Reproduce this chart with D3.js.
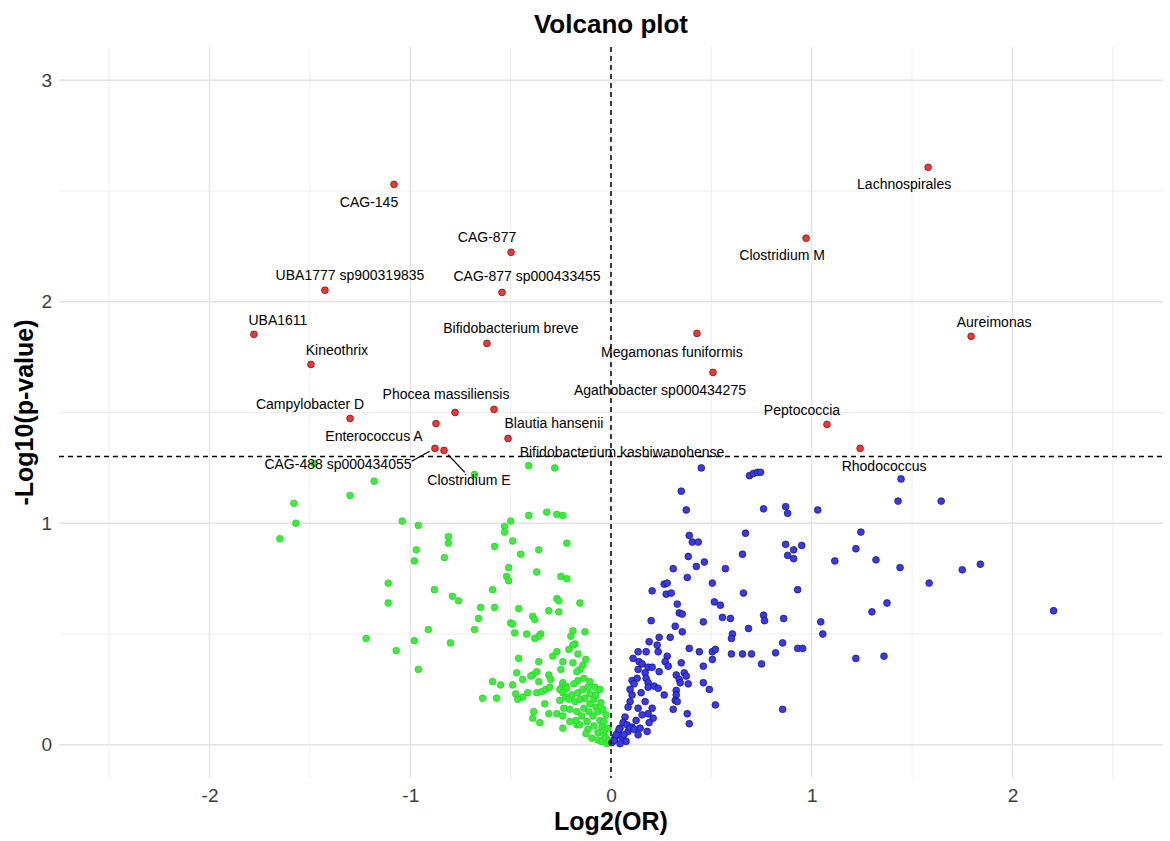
<!DOCTYPE html>
<html>
<head>
<meta charset="utf-8">
<script src="https://cdn.jsdelivr.net/npm/d3@7"></script>
<style>
  body { margin: 0; background: #fff; }
  svg { font-family: "Liberation Sans", Arial, sans-serif; }
</style>
</head>
<body>
<svg id="volcano"></svg>
<script>
// significant taxa (p < 0.05)
const sigNames = [
  'Lachnospirales', 'CAG-145', 'Clostridium M', 'CAG-877', 'UBA1777 sp900319835',
  'CAG-877 sp000433455', 'Aureimonas', 'UBA1611', 'Megamonas funiformis',
  'Bifidobacterium breve', 'Kineothrix', 'Agathobacter sp000434275',
  'Phocea massiliensis', 'Blautia hansenii', 'Enterococcus A',
  'Bifidobacterium kashiwanohense', 'CAG-488 sp000434055', 'Clostridium E',
  'Peptococcia', 'Campylobacter D', 'Rhodococcus'
];
const sigLog2OR = [1.58, -1.081, 0.972, -0.498, -1.425, -0.543, 1.794, -1.779, 0.428,
  -0.618, -1.495, 0.508, -0.777, -0.583, -0.872, -0.513, -0.877, -0.832, 1.076, -1.300, 1.241];
const sigLogP = [2.607, 2.530, 2.287, 2.223, 2.052, 2.042, 1.844, 1.853, 1.857,
  1.812, 1.717, 1.681, 1.500, 1.514, 1.450, 1.383, 1.338, 1.329, 1.446, 1.473, 1.338];

// non-significant, OR < 1  [log2OR, -log10 p]
const nsDown = [
  [-1.48,1.27],[-1.18,1.19],[-1.30,1.125],[-1.58,1.09],[-1.57,1.00],[-1.65,0.93],
  [-1.04,1.01],[-0.96,0.99],[-0.97,0.88],[-0.98,0.83],[-1.11,0.73],[-0.88,0.70],
  [-1.11,0.64],[-0.91,0.52],[-1.22,0.48],[-0.98,0.47],[-1.07,0.425],[-0.96,0.34],
  [-0.41,1.26],[-0.28,1.25],[-0.68,1.22],[-0.41,1.035],[-0.32,1.05],[-0.27,1.04],
  [-0.24,1.035],[-0.50,1.01],[-0.53,0.985],[-0.53,0.96],[-0.81,0.94],[-0.81,0.91],
  [-0.58,0.895],[-0.49,0.92],[-0.22,0.91],[-0.83,0.845],[-0.45,0.86],[-0.36,0.88],
  [-0.51,0.80],[-0.37,0.78],[-0.52,0.76],[-0.51,0.74],[-0.25,0.76],[-0.22,0.75],
  [-0.59,0.70],[-0.79,0.67],[-0.76,0.65],[-0.27,0.66],[-0.26,0.65],[-0.155,0.64],
  [-0.65,0.62],[-0.58,0.62],[-0.46,0.615],[-0.31,0.605],[-0.26,0.60],[-0.39,0.58],
  [-0.38,0.565],[-0.66,0.57],[-0.50,0.55],[-0.49,0.545],[-0.68,0.52],[-0.48,0.505],
  [-0.42,0.50],[-0.19,0.515],[-0.13,0.51],[-0.35,0.50],[-0.36,0.49],[-0.38,0.48],
  [-0.20,0.49],[-0.80,0.46],[-0.18,0.455],[-0.19,0.45],[-0.21,0.43],[-0.27,0.42],
  [-0.165,0.41],[-0.29,0.40],[-0.24,0.375],[-0.19,0.37],[-0.125,0.385],[-0.14,0.36],
  [-0.155,0.34],[-0.17,0.33],[-0.46,0.39],[-0.36,0.375],[-0.25,0.34],[-0.37,0.33],
  [-0.39,0.315],[-0.40,0.31],[-0.47,0.325],[-0.44,0.295],[-0.36,0.285],[-0.31,0.315],
  [-0.30,0.295],[-0.59,0.285],[-0.55,0.27],[-0.49,0.27],[-0.135,0.30],[-0.165,0.29],
  [-0.24,0.28],[-0.245,0.26],[-0.225,0.265],[-0.255,0.25],[-0.24,0.235],[-0.22,0.255],
  [-0.37,0.235],[-0.345,0.24],[-0.325,0.25],[-0.305,0.26],[-0.415,0.235],[-0.475,0.23],
  [-0.44,0.215],[-0.465,0.205],[-0.57,0.21],[-0.64,0.21],[-0.33,0.185],[-0.255,0.20],
  [-0.225,0.215],[-0.21,0.205],[-0.18,0.195],[-0.385,0.15],[-0.31,0.14],[-0.27,0.14],
  [-0.235,0.165],[-0.24,0.13],[-0.39,0.12],[-0.355,0.10],[-0.24,0.075],[-0.17,0.09],
  [-0.195,0.225],[-0.165,0.235],[-0.14,0.25],[-0.115,0.26],[-0.105,0.23],[-0.13,0.21],
  [-0.155,0.205],[-0.205,0.16],[-0.17,0.15],[-0.135,0.165],[-0.105,0.185],[-0.085,0.205],
  [-0.075,0.17],[-0.11,0.15],[-0.145,0.13],[-0.175,0.11],[-0.205,0.105],[-0.155,0.09],
  [-0.12,0.105],[-0.09,0.13],[-0.065,0.15],[-0.055,0.11],[-0.085,0.085],[-0.115,0.07],
  [-0.125,0.05],[-0.095,0.03],[-0.065,0.055],[-0.045,0.08],[-0.035,0.045],[-0.065,0.022],
  [-0.045,0.014],[-0.025,0.03],[-0.02,0.005],[-0.01,0.018],[-0.03,0.068],[-0.075,0.225],
  [-0.05,0.19],[-0.185,0.275],[-0.105,0.285],[-0.08,0.26],[-0.055,0.25],[-0.025,0.135],
  [-0.035,0.105],[-0.015,0.075],[-0.04,0.16]
];

// non-significant, OR > 1  [log2OR, -log10 p]
const nsUp = [
  [0.45,1.25],[0.69,1.215],[0.71,1.225],[0.73,1.23],[0.745,1.23],[0.35,1.145],
  [0.375,1.06],[0.76,1.065],[0.87,1.075],[0.88,1.045],[1.03,1.06],[0.39,0.945],
  [0.405,0.915],[0.435,0.915],[0.67,0.955],[0.385,0.85],[0.465,0.825],[0.425,0.805],
  [0.31,0.795],[0.57,0.795],[0.655,0.86],[0.87,0.905],[0.91,0.88],[0.95,0.90],
  [0.88,0.855],[0.91,0.84],[1.115,0.83],[0.38,0.755],[0.205,0.695],[0.265,0.725],
  [0.28,0.73],[0.275,0.68],[0.30,0.685],[0.505,0.73],[0.66,0.685],[0.93,0.70],
  [0.33,0.635],[0.34,0.595],[0.355,0.59],[0.515,0.645],[0.545,0.63],[0.555,0.575],
  [0.595,0.57],[0.76,0.585],[0.765,0.56],[0.86,0.57],[0.20,0.56],[0.46,0.555],
  [0.32,0.535],[0.355,0.51],[0.685,0.525],[1.045,0.555],[1.055,0.50],[0.605,0.50],
  [0.60,0.48],[0.24,0.485],[0.295,0.485],[0.19,0.465],[0.23,0.45],[0.235,0.42],
  [0.175,0.42],[0.135,0.42],[0.39,0.435],[0.44,0.42],[0.505,0.42],[0.52,0.43],
  [0.60,0.41],[0.655,0.41],[0.70,0.41],[0.82,0.415],[0.855,0.46],[0.93,0.435],
  [0.955,0.435],[0.11,0.39],[0.14,0.375],[0.155,0.365],[0.28,0.40],[0.27,0.375],
  [0.285,0.355],[0.35,0.37],[0.505,0.385],[0.46,0.355],[0.75,0.365],[0.185,0.35],
  [0.205,0.35],[0.135,0.34],[0.17,0.325],[0.24,0.33],[0.365,0.325],[0.375,0.31],
  [0.325,0.315],[0.34,0.295],[0.345,0.28],[0.105,0.29],[0.13,0.30],[0.115,0.275],
  [0.175,0.30],[0.185,0.28],[0.185,0.26],[0.215,0.265],[0.235,0.255],[0.385,0.275],
  [0.46,0.28],[0.265,0.225],[0.325,0.245],[0.325,0.225],[0.32,0.20],[0.49,0.25],
  [0.15,0.235],[0.17,0.195],[0.095,0.25],[0.105,0.225],[0.095,0.195],[0.085,0.17],
  [0.33,0.195],[0.31,0.16],[0.52,0.18],[0.855,0.16],[0.38,0.14],[0.39,0.095],
  [0.205,0.165],[0.185,0.14],[0.21,0.12],[0.19,0.10],[0.135,0.165],[0.155,0.135],
  [0.125,0.11],[0.135,0.045],[0.18,0.06],[0.07,0.125],[0.06,0.10],[0.045,0.075],
  [0.035,0.055],[0.02,0.03],[0.005,0.01],[0.055,0.035],[0.085,0.06],[0.105,0.08],
  [0.08,0.09],[0.015,0.02],[0.025,0.045],[0.04,0.07],[0.065,0.045],[0.095,0.075],
  [0.115,0.07],[0.145,0.075],[0.075,0.015],[0.045,0.005],
  [1.445,1.20],[1.43,1.10],[1.645,1.10],[1.245,0.96],[1.22,0.885],[1.32,0.835],
  [1.44,0.80],[1.75,0.79],[1.84,0.815],[1.585,0.73],[1.375,0.64],[1.30,0.60],
  [2.205,0.605],[1.22,0.39],[1.36,0.40]
];

const xTicks = [-2, -1, 0, 1, 2];
const yTicks = [0, 1, 2, 3];
const pThreshold = 0.05;

// label placement (pixel nudges from the point, like ggrepel output)
const labelNudge = [
  [-24, 17], [-25, 18], [-24, 17], [-24, -15], [25, -15],
  [25, -16], [23, -14], [24, -14], [-25, 19],
  [24, -15], [26, -14], [-53, 18],
  [-9, -18], [60, 14], [-62, 13],
  [114, 14], [-97, 16], [25, 30],
  [-25, -14], [-40, -14], [24, 18]
];
// label edge the connector segment goes to (only where ggrepel drew one)
const segAnchor = { 'CAG-488 sp000434055': [1, -0.4], 'Clostridium E': [-0.1, -1] };

const W = 1170, H = 841;
const panel = { left: 59, right: 1163, top: 47, bottom: 778 };

const svg = d3.select('#volcano').attr('width', W).attr('height', H);

const x = d3.scaleLinear().domain([-2.75, 2.75]).range([panel.left, panel.right]);
const y = d3.scaleLinear().domain([-0.15, 3.15]).range([panel.bottom, panel.top]);

// grid (minor then major)
const grid = svg.append('g');
const xMinor = d3.range(-2.5, 2.51, 1);
const yMinor = [0.5, 1.5, 2.5];
grid.selectAll('.xminor').data(xMinor).join('line')
  .attr('x1', d => x(d)).attr('x2', d => x(d))
  .attr('y1', panel.top).attr('y2', panel.bottom)
  .attr('stroke', '#ececec').attr('stroke-width', 0.9);
grid.selectAll('.yminor').data(yMinor).join('line')
  .attr('x1', panel.left).attr('x2', panel.right)
  .attr('y1', d => y(d)).attr('y2', d => y(d))
  .attr('stroke', '#ececec').attr('stroke-width', 0.9);
grid.selectAll('.xmajor').data(xTicks).join('line')
  .attr('x1', d => x(d)).attr('x2', d => x(d))
  .attr('y1', panel.top).attr('y2', panel.bottom)
  .attr('stroke', '#e4e4e4').attr('stroke-width', 1.3);
grid.selectAll('.ymajor').data(yTicks).join('line')
  .attr('x1', panel.left).attr('x2', panel.right)
  .attr('y1', d => y(d)).attr('y2', d => y(d))
  .attr('stroke', '#e4e4e4').attr('stroke-width', 1.3);

// axes (labels only, theme_minimal style)
const xAxis = d3.axisBottom(x).tickValues(xTicks).tickSize(0).tickPadding(11).tickFormat(d => String(d));
const yAxis = d3.axisLeft(y).tickValues(yTicks).tickSize(0).tickPadding(7).tickFormat(d => String(d));

const xAxisG = svg.append('g').attr('transform', `translate(0,${panel.bottom})`).call(xAxis);
const yAxisG = svg.append('g').attr('transform', `translate(${panel.left},0)`).call(yAxis);
[xAxisG, yAxisG].forEach(g => {
  g.select('.domain').remove();
  g.selectAll('.tick text')
    .style('font-family', '"Liberation Sans", Arial, sans-serif')
    .style('font-size', '19px')
    .attr('fill', '#3d3d3d');
});

// points
const pts = svg.append('g');
pts.selectAll('.down').data(nsDown).join('circle')
  .attr('cx', d => x(d[0])).attr('cy', d => y(d[1])).attr('r', 3.4)
  .attr('fill', '#38f038').attr('stroke', '#2cc22c').attr('stroke-width', 0.6);
pts.selectAll('.up').data(nsUp).join('circle')
  .attr('cx', d => x(d[0])).attr('cy', d => y(d[1])).attr('r', 3.4)
  .attr('fill', '#3838f0').attr('stroke', '#14146e').attr('stroke-width', 0.7);

const sig = sigNames.map((name, i) => ({ name, lor: sigLog2OR[i], lp: sigLogP[i], nudge: labelNudge[i] }));
pts.selectAll('.sig').data(sig).join('circle')
  .attr('cx', d => x(d.lor)).attr('cy', d => y(d.lp)).attr('r', 3.4)
  .attr('fill', '#f03535').attr('stroke', '#6e1010').attr('stroke-width', 0.7);

// reference lines
const thr = -Math.log10(pThreshold);
svg.append('line')
  .attr('x1', panel.left).attr('x2', panel.right)
  .attr('y1', y(thr)).attr('y2', y(thr))
  .attr('stroke', '#000').attr('stroke-width', 1.5).attr('stroke-dasharray', '5,4');
svg.append('line')
  .attr('x1', x(0)).attr('x2', x(0))
  .attr('y1', panel.top).attr('y2', panel.bottom)
  .attr('stroke', '#000').attr('stroke-width', 1.5).attr('stroke-dasharray', '5,4');

// labels
const labels = svg.append('g');
sig.forEach(d => {
  const px = x(d.lor), py = y(d.lp);
  const lx = px + d.nudge[0], ly = py + d.nudge[1];
  const t = labels.append('text')
    .attr('x', lx).attr('y', ly)
    .attr('text-anchor', 'middle')
    .attr('dy', '0.35em')
    .style('font-size', '14px')
    .attr('fill', '#000')
    .text(d.name);

  const anchor = segAnchor[d.name];
  if (anchor) {
    const bb = t.node().getBBox();
    const ex = lx + anchor[0] * bb.width / 2;
    const ey = ly + anchor[1] * bb.height / 2;
    const ang = Math.atan2(ey - py, ex - px);
    labels.append('line')
      .attr('x1', px + 6 * Math.cos(ang)).attr('y1', py + 6 * Math.sin(ang))
      .attr('x2', ex).attr('y2', ey)
      .attr('stroke', '#000').attr('stroke-width', 1.2);
  }
});

// titles
svg.append('text')
  .attr('x', x(0)).attr('y', 33)
  .attr('text-anchor', 'middle')
  .style('font-size', '26px').style('font-weight', 'bold')
  .text('Volcano plot');

svg.append('text')
  .attr('x', x(0)).attr('y', 830)
  .attr('text-anchor', 'middle')
  .style('font-size', '25px').style('font-weight', 'bold')
  .text('Log2(OR)');

svg.append('text')
  .attr('transform', `translate(33,${(panel.top + panel.bottom) / 2}) rotate(-90)`)
  .attr('text-anchor', 'middle')
  .style('font-size', '25px').style('font-weight', 'bold')
  .text('-Log10(p-value)');
</script>
</body>
</html>
